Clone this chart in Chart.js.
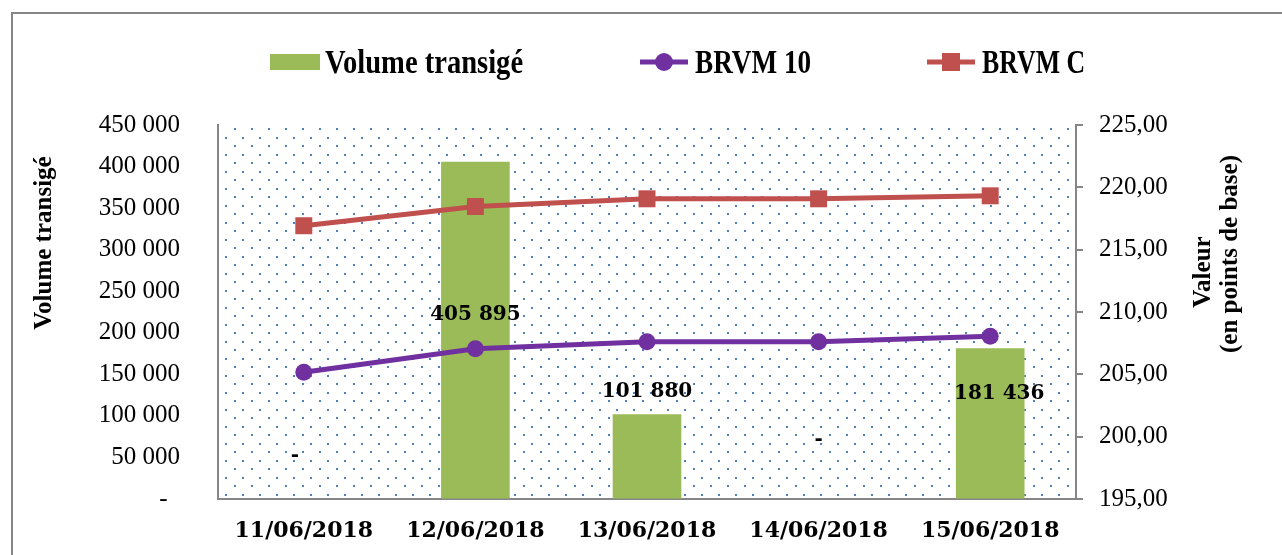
<!DOCTYPE html>
<html>
<head>
<meta charset="utf-8">
<script src="https://cdn.jsdelivr.net/npm/chart.js@4.4.0/dist/chart.umd.min.js"></script>
<style>
  html, body { margin: 0; padding: 0; background: #fff; }
  #wrap { width: 1282px; height: 555px; }
</style>
</head>
<body>
<div id="wrap"><canvas id="volumeChart"></canvas></div>
<script>
// DATA
const dates = ['11/06/2018', '12/06/2018', '13/06/2018', '14/06/2018', '15/06/2018'];
const volumes = [0, 405895, 101880, 0, 181436];
const brvm10 = [205.16, 207.06, 207.62, 207.62, 208.06];
const brvmC = [216.92, 218.46, 219.08, 219.08, 219.32];

const GRAY = '#868686';

function spaced(n) {
    return String(n).replace(/\B(?=(\d{3})+(?!\d))/g, ' ');
}

// dotted background of the plot area
const dotsPlugin = {
    id: 'dots',
    beforeDatasetsDraw(chart) {
        const { ctx, chartArea: a } = chart;
        ctx.save();
        ctx.fillStyle = '#4F81BD';
        let row = 0;
        for (let y = a.top + 3; y < a.bottom - 1; y += 8.5, row++) {
            const start = a.left + (row % 2 ? 7 : 16);
            for (let x = start; x < a.right - 1; x += 17) {
                ctx.fillRect(Math.round(x), Math.round(y), 2, 2);
            }
        }
        ctx.restore();
    }
};

// value labels of the bars
const barLabelsPlugin = {
    id: 'barLabels',
    afterDatasetsDraw(chart, args, opts) {
        const { ctx } = chart;
        const meta = chart.getDatasetMeta(0);
        ctx.save();
        ctx.font = 'bold 20px "DejaVu Serif"';
        ctx.fillStyle = '#000';
        ctx.textAlign = 'center';
        ctx.textBaseline = 'middle';
        meta.data.forEach((bar, i) => {
            const v = volumes[i];
            const [dx, dy] = opts.shift[i];
            ctx.fillText(v === 0 ? '-' : spaced(v), bar.x + dx, bar.y + dy);
        });
        ctx.restore();
    }
};

// legend, axis titles and outer frame, drawn the excel way
const decorPlugin = {
    id: 'decor',
    afterDraw(chart, args, opts) {
        const { ctx } = chart;
        ctx.save();

        // frame
        ctx.strokeStyle = GRAY;
        ctx.lineWidth = 2;
        ctx.strokeRect(12, 13, chart.width + 20, chart.height + 20);

        // legend
        const ly = 62;
        chart.data.datasets.forEach((ds, i) => {
            const x = opts.legendX[i];
            if (ds.type === 'bar') {
                ctx.fillStyle = ds.backgroundColor;
                ctx.fillRect(x, ly - 8, 50, 16);
            } else {
                ctx.strokeStyle = ds.borderColor;
                ctx.lineWidth = 5;
                ctx.beginPath();
                ctx.moveTo(x, ly);
                ctx.lineTo(x + 48, ly);
                ctx.stroke();
                ctx.fillStyle = ds.borderColor;
                if (ds.pointStyle === 'rect') {
                    ctx.fillRect(x + 24 - 9, ly - 9, 18, 18);
                } else {
                    ctx.beginPath();
                    ctx.arc(x + 24, ly, 9, 0, Math.PI * 2);
                    ctx.fill();
                }
            }
            ctx.save();
            ctx.translate(x + 55, ly);
            ctx.scale(opts.legendStretch[i], 1);
            ctx.font = 'bold 34px "Liberation Serif"';
            ctx.fillStyle = '#000';
            ctx.textBaseline = 'middle';
            ctx.fillText(ds.label, 0, 2);
            ctx.restore();
        });

        // axis titles
        ctx.fillStyle = '#000';
        ctx.font = 'bold 25px "Liberation Serif"';
        ctx.textAlign = 'center';
        ctx.textBaseline = 'middle';
        const vtext = (t, x, y) => {
            ctx.save();
            ctx.translate(x, y);
            ctx.rotate(-Math.PI / 2);
            ctx.fillText(t, 0, 0);
            ctx.restore();
        };
        vtext('Volume transigé', 45, 243);
        vtext('Valeur', 1204, 272);
        vtext('(en points de base)', 1231, 254);

        ctx.restore();
    }
};

const ctx = document.getElementById('volumeChart').getContext('2d');

new Chart(ctx, {
    data: {
        labels: dates,
        datasets: [
            {
                type: 'bar',
                label: 'Volume transigé',
                data: volumes,
                backgroundColor: '#9BBB59',
                barPercentage: 0.4,
                categoryPercentage: 1.0,
                yAxisID: 'yVol',
                order: 3
            },
            {
                type: 'line',
                label: 'BRVM 10',
                data: brvm10,
                borderColor: '#7030A0',
                backgroundColor: '#7030A0',
                borderWidth: 5,
                pointStyle: 'circle',
                pointRadius: 8.5,
                pointBorderWidth: 0,
                tension: 0,
                yAxisID: 'yIdx',
                order: 1
            },
            {
                type: 'line',
                label: 'BRVM C',
                data: brvmC,
                borderColor: '#C0504D',
                backgroundColor: '#C0504D',
                borderWidth: 5,
                pointStyle: 'rect',
                pointRadius: 12,
                pointBorderWidth: 0,
                tension: 0,
                yAxisID: 'yIdx',
                order: 2
            }
        ]
    },
    options: {
        responsive: true,
        maintainAspectRatio: false,
        animation: false,
        layout: { padding: { top: 125, left: 0, right: 0, bottom: 0 } },
        plugins: {
            legend: { display: false },
            tooltip: { enabled: false },
            barLabels: { shift: [[-9, -43], [0, 153], [0, -23], [0, -59], [9, 46]] },
            decor: { legendX: [270, 640, 927], legendStretch: [0.84, 0.8, 0.76] }
        },
        scales: {
            x: {
                grid: { display: false },
                border: { display: true, color: GRAY, width: 2 },
                ticks: {
                    color: '#000',
                    padding: 11,
                    font: { family: 'DejaVu Serif', size: 22, weight: 'bold' }
                },
                afterFit(scale) { scale.height = 56; }
            },
            yVol: {
                position: 'left',
                min: 0,
                max: 450000,
                ticks: {
                    stepSize: 50000,
                    color: '#000',
                    padding: 38,
                    font: { family: 'Liberation Serif', size: 25 },
                    callback: v => v === 0 ? '-  ' : spaced(v)
                },
                grid: { drawOnChartArea: false, drawTicks: false },
                border: { color: GRAY, width: 2 },
                afterFit(scale) { scale.width = 218; }
            },
            yIdx: {
                position: 'right',
                min: 195,
                max: 225,
                ticks: {
                    stepSize: 5,
                    color: '#000',
                    padding: 16,
                    font: { family: 'Liberation Serif', size: 25 },
                    callback: v => v.toFixed(2).replace('.', ',')
                },
                grid: { drawOnChartArea: false, tickLength: 7, color: GRAY, lineWidth: 2 },
                border: { color: GRAY, width: 2 },
                afterFit(scale) { scale.width = 206; }
            }
        }
    },
    plugins: [dotsPlugin, barLabelsPlugin, decorPlugin]
});
</script>
</body>
</html>
